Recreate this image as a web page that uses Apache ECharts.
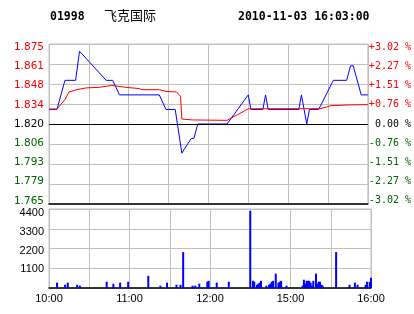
<!DOCTYPE html>
<html><head><meta charset="utf-8">
<script src="https://cdn.jsdelivr.net/npm/echarts@6/dist/echarts.min.js"></script>
<style>html,body{margin:0;padding:0;background:#fff}#c{width:414px;height:314px}</style>
</head><body><div id="c"></div>
<script>
// ---- data ----
const stockCode = '01998';
const stockName = '飞克国际';
const stamp = '2010-11-03 16:03:00';
const prevClose = 1.82;
const pctRange = 3.02; // % at top/bottom of price panel
const priceTickLabels = ['1.765','1.779','1.793','1.806','1.820','1.834','1.848','1.861','1.875'];
const pctTickLabels = ['-3.02 %','-2.27 %','-1.51 %','-0.76 %',' 0.00 %','+0.76 %','+1.51 %','+2.27 %','+3.02 %'];
const timeTickLabels = {0:'10:00',60:'11:00',120:'12:00',180:'15:00',240:'16:00'};
const volTickLabels = {1100:'1100',2200:'2200',3300:'3300',4400:'4400'};
const volMax = 4400;

// minute index from 10:00 (12:30 and 14:30 share index 150)
const priceMinutes = [0,6,12,20,23,43,48,53,83,88,95,100,107,109,112,134,150,152,161,163,165,188,190,191,192,193,194,196,203,214,224,227,229,235,240];
const priceValues  = [1.83,1.83,1.85,1.85,1.87,1.85,1.85,1.84,1.84,1.83,1.83,1.80,1.81,1.81,1.82,1.82,1.84,1.83,1.83,1.84,1.83,1.83,1.84,1.84,1.83,1.83,1.82,1.83,1.83,1.85,1.85,1.86,1.86,1.84,1.84];

const avgMinutes = [0,6,12,15,21,28,38,47,52,58,68,70,83,88,96,99,100,108,134,137,142,150,204,209,212,226,240];
const avgValues  = [1.8303,1.8303,1.8367,1.842,1.8436,1.8448,1.8452,1.8465,1.8459,1.8452,1.8443,1.8436,1.8436,1.8424,1.842,1.839,1.8234,1.8228,1.8225,1.8241,1.8264,1.8305,1.8305,1.8317,1.8326,1.8331,1.8333];

const volMinutes = [6,12,14,21,23,43,48,53,59,74,83,88,95,98,100,107,109,112,118,119,125,134,150,152,153,155,156,157,158,162,164,165,166,167,169,171,172,173,177,189,190,191,192,193,194,195,196,197,199,200,201,202,203,204,214,224,228,230,236,237,239,240];
const volValues  = [300,180,300,180,130,350,240,300,350,680,130,300,180,180,2000,130,130,240,350,400,300,350,4300,400,350,180,240,300,400,130,180,240,350,400,800,300,350,400,130,130,460,240,400,400,400,300,130,400,800,240,350,350,180,130,2000,180,300,180,180,350,350,570];

// ---- build ----
const step = prevClose * pctRange / 100 / 4;
const toU = p => (p - prevClose) / step;
const zip = (a, b, f) => a.map((x, i) => [x, f ? f(b[i]) : b[i]]);
const RED = '#ff0000', GREEN = '#006400', GRID = '#c0c0c0';
const sideColor = u => u > 0 ? RED : (u < 0 ? GREEN : '#000');
// small vertical nudges so end labels stay inside the panel
const shiftPad = d => d >= 0 ? [2 * d, 0, 0, 0] : [0, 0, -2 * d, 0];
const priceRich = {}, pctRich = {};
for (let u = -4; u <= 4; u++) {
  const d = 0.8 * u;
  priceRich['p' + (u + 4)] = {color: sideColor(u), fontFamily: 'DejaVu Sans', fontSize: 10.5, padding: shiftPad(d)};
  pctRich['p' + (u + 4)] = {color: sideColor(u), fontFamily: 'DejaVu Sans Mono', fontSize: 10, padding: shiftPad(d)};
}
const volRich = {
  v1100: {padding: shiftPad(1), fontFamily: 'Liberation Sans', fontSize: 11, color: '#000'},
  v2200: {padding: shiftPad(2.2), fontFamily: 'Liberation Sans', fontSize: 11, color: '#000'},
  v3300: {padding: shiftPad(3), fontFamily: 'Liberation Sans', fontSize: 11, color: '#000'},
  v4400: {padding: shiftPad(3.6), fontFamily: 'Liberation Sans', fontSize: 11, color: '#000'}
};

const chart = echarts.init(document.getElementById('c'), null, {renderer: 'canvas'});
chart.setOption({
  animation: false,
  backgroundColor: '#fff',
  title: [
    {text: stockCode, left: 50, top: 11, padding: 0, textStyle: {fontFamily: 'DejaVu Sans Mono', fontWeight: 'bold', fontSize: 11.5, color: '#000'}},
    {text: stockName, left: 104, top: 9, padding: 0, textStyle: {fontFamily: 'Noto Sans CJK SC', fontWeight: 'normal', fontSize: 13, color: '#000'}},
    {text: stamp, left: 238, top: 11, padding: 0, textStyle: {fontFamily: 'DejaVu Sans Mono', fontWeight: 'bold', fontSize: 11.5, color: '#000'}}
  ],
  grid: [
    {left: 49, top: 44, width: 322, height: 160, show: true, borderColor: GRID, borderWidth: 1},
    {left: 49, top: 209, width: 322, height: 79, show: true, borderColor: GRID, borderWidth: 1}
  ],
  xAxis: [
    {gridIndex: 0, type: 'value', min: 0, max: 240, interval: 30,
     axisLine: {show: true, onZero: false, lineStyle: {color: '#000', width: 1.5}},
     axisTick: {show: false}, axisLabel: {show: false},
     splitLine: {show: true, lineStyle: {color: GRID, width: 1}}},
    {gridIndex: 1, type: 'value', min: 0, max: 240, interval: 30,
     axisLine: {show: true, onZero: false, lineStyle: {color: '#000', width: 1.5}},
     axisTick: {show: false},
     axisLabel: {show: true, margin: 5, fontFamily: 'Liberation Sans', fontSize: 11, color: '#000',
                 formatter: v => timeTickLabels[v] || ''},
     splitLine: {show: true, lineStyle: {color: GRID, width: 1}}}
  ],
  yAxis: [
    {gridIndex: 0, type: 'value', min: -4, max: 4, interval: 1, position: 'left',
     axisLine: {show: false}, axisTick: {show: false},
     axisLabel: {margin: 5, rich: priceRich,
                 formatter: v => { const i = Math.round(v) + 4; return '{p' + i + '|' + priceTickLabels[i] + '}'; }},
     splitLine: {show: true, lineStyle: {color: GRID, width: 1}}},
    {gridIndex: 0, type: 'value', min: -4, max: 4, interval: 1, position: 'right',
     axisLine: {show: false}, axisTick: {show: false},
     axisLabel: {margin: 1, rich: pctRich,
                 formatter: v => { const i = Math.round(v) + 4; return '{p' + i + '|' + pctTickLabels[i] + '}'; }},
     splitLine: {show: false}},
    {gridIndex: 1, type: 'value', min: 0, max: volMax, interval: 1100,
     axisLine: {show: false}, axisTick: {show: false},
     axisLabel: {margin: 5, rich: volRich,
                 formatter: v => volTickLabels[v] ? '{v' + v + '|' + volTickLabels[v] + '}' : ''},
     splitLine: {show: true, lineStyle: {color: GRID, width: 1}}}
  ],
  series: [
    {name: 'price', type: 'line', xAxisIndex: 0, yAxisIndex: 0, data: zip(priceMinutes, priceValues, toU),
     showSymbol: false, symbol: 'none', lineStyle: {color: '#0000ff', width: 1}, z: 3,
     markLine: {silent: true, symbol: 'none', label: {show: false},
                lineStyle: {color: '#000', width: 1, type: 'solid'}, data: [{yAxis: 0}]}},
    {name: 'avg', type: 'line', xAxisIndex: 0, yAxisIndex: 0, data: zip(avgMinutes, avgValues, toU),
     showSymbol: false, symbol: 'none', lineStyle: {color: RED, width: 1}, z: 4},
    {name: 'volume', type: 'bar', xAxisIndex: 1, yAxisIndex: 2, data: zip(volMinutes, volValues),
     barWidth: 2, itemStyle: {color: '#0000ff'}}
  ]
});
</script></body></html>
